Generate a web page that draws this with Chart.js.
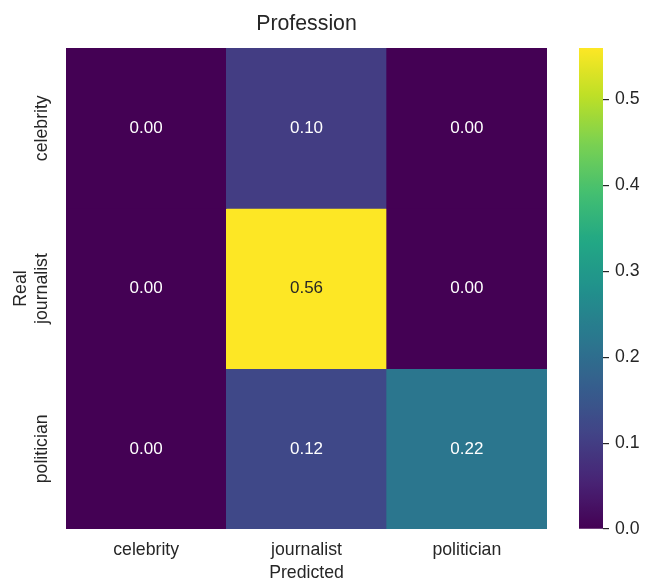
<!DOCTYPE html>
<html>
<head>
<meta charset="utf-8">
<title>Profession</title>
<script src="https://cdn.jsdelivr.net/npm/chart.js@4.4.1/dist/chart.umd.min.js"></script>
<style>
  html, body { margin: 0; padding: 0; background: #ffffff; }
  #wrap { position: relative; width: 646px; height: 587px; }
  #heat { position: absolute; left: 0; top: 0; }
  #cbar { position: absolute; left: 560px; top: 0; }
</style>
</head>
<body>
<div id="wrap">
  <canvas id="heat" width="646" height="587"></canvas>
  <canvas id="cbar" width="86" height="587"></canvas>
</div>
<script>
// Confusion matrix: rows = real class, columns = predicted class
const predictedLabels = ['celebrity', 'journalist', 'politician'];
const realLabels = ['celebrity', 'journalist', 'politician'];
const rowCelebrity  = [0.00, 0.10, 0.00];
const rowJournalist = [0.00, 0.56, 0.00];
const rowPolitician = [0.00, 0.12, 0.22];
const colorbarTicks = [0.0, 0.1, 0.2, 0.3, 0.4, 0.5];

const rows = [rowCelebrity, rowJournalist, rowPolitician];
const vmin = 0;
const vmax = Math.max(...rows.flat());

const FONT = "'Liberation Sans', Arial, 'DejaVu Sans', sans-serif";
const TEXT = '#262626';

// viridis colour map, sampled at 11 evenly spaced stops
const VIRIDIS = ['#440154', '#482475', '#414487', '#355f8d', '#2a788e', '#21918c',
                 '#22a884', '#44bf70', '#7ad151', '#bddf26', '#fde725'];
function hexToRgb(h) {
  return [parseInt(h.slice(1, 3), 16), parseInt(h.slice(3, 5), 16), parseInt(h.slice(5, 7), 16)];
}
function viridis(t) {
  t = Math.min(1, Math.max(0, t));
  const pos = t * (VIRIDIS.length - 1);
  const i = Math.min(VIRIDIS.length - 2, Math.floor(pos));
  const f = pos - i;
  const a = hexToRgb(VIRIDIS[i]), b = hexToRgb(VIRIDIS[i + 1]);
  return a.map((c, k) => Math.round(c + (b[k] - c) * f));
}
function rgbStr(c) { return `rgb(${c[0]},${c[1]},${c[2]})`; }
function norm(v) { return (v - vmin) / (vmax - vmin); }
function luminance(c) {
  const lin = c.map(x => { x /= 255; return x <= 0.03928 ? x / 12.92 : Math.pow((x + 0.055) / 1.055, 2.4); });
  return 0.2126 * lin[0] + 0.7152 * lin[1] + 0.0722 * lin[2];
}

// Each real class is one stacked dataset of unit-height cells
const datasets = rows.map((vals, r) => ({
  label: realLabels[r],
  data: vals.map(() => 1),
  values: vals,
  backgroundColor: vals.map(v => rgbStr(viridis(norm(v)))),
  borderWidth: 0,
  barPercentage: 1,
  categoryPercentage: 1
}));

// Writes the value in every cell and the rotated row labels
const cellText = {
  id: 'cellText',
  afterDatasetsDraw(chart) {
    const ctx = chart.ctx;
    ctx.save();
    ctx.font = `17px ${FONT}`;
    ctx.textAlign = 'center';
    ctx.textBaseline = 'middle';
    chart.data.datasets.forEach((ds, di) => {
      chart.getDatasetMeta(di).data.forEach((bar, i) => {
        const v = ds.values[i];
        const col = viridis(norm(v));
        ctx.fillStyle = luminance(col) < 0.408 ? '#ffffff' : TEXT;
        ctx.fillText(v.toFixed(2), bar.x, (bar.y + bar.base) / 2);
      });
    });
    ctx.restore();
  },
  afterDraw(chart) {
    const ys = chart.scales.y;
    const ctx = chart.ctx;
    ctx.save();
    ctx.font = `17.7px ${FONT}`;
    ctx.fillStyle = TEXT;
    ctx.textAlign = 'center';
    ctx.textBaseline = 'middle';
    realLabels.forEach((lab, i) => {
      ctx.save();
      ctx.translate(ys.right - 24, ys.getPixelForValue(i + 0.5));
      ctx.rotate(-Math.PI / 2);
      ctx.fillText(lab, 0, 0);
      ctx.restore();
    });
    ctx.restore();
  }
};

new Chart(document.getElementById('heat'), {
  type: 'bar',
  data: { labels: predictedLabels, datasets },
  plugins: [cellText],
  options: {
    responsive: false,
    animation: false,
    events: [],
    layout: { padding: { left: 0, right: 99, top: 0, bottom: 0 } },
    plugins: {
      legend: { display: false },
      tooltip: { enabled: false },
      title: {
        display: true,
        fullSize: false,
        text: 'Profession',
        color: TEXT,
        font: { family: FONT, size: 21.3, weight: 'normal', lineHeight: 1.2 },
        padding: { top: 11, bottom: 11.5 }
      }
    },
    scales: {
      x: {
        stacked: true,
        grid: { display: false, drawTicks: false },
        border: { display: false },
        ticks: { color: TEXT, padding: 10, font: { family: FONT, size: 17.7, lineHeight: 1.2 } },
        title: {
          display: true, text: 'Predicted', color: TEXT,
          font: { family: FONT, size: 17.7, lineHeight: 1.2 },
          padding: { top: 0, bottom: 3 }
        },
        afterFit(s) { s.height = 58; }
      },
      y: {
        stacked: true,
        reverse: true,
        min: 0,
        max: realLabels.length,
        grid: { display: false, drawTicks: false },
        border: { display: false },
        ticks: { display: false },
        title: {
          display: true, text: 'Real', color: TEXT,
          font: { family: FONT, size: 17.7, lineHeight: 1.2 },
          padding: { top: 10, bottom: 0 }
        },
        afterFit(s) { s.width = 66; }
      }
    }
  }
});

// Colour bar: one floating bar from vmin to vmax filled with the colour map
new Chart(document.getElementById('cbar'), {
  type: 'bar',
  data: {
    labels: [''],
    datasets: [{
      data: [[vmin, vmax]],
      borderWidth: 0,
      barPercentage: 1,
      categoryPercentage: 1,
      backgroundColor(c) {
        const chart = c.chart;
        if (!chart.chartArea) return VIRIDIS[0];
        const ys = chart.scales.y;
        const g = chart.ctx.createLinearGradient(0, ys.getPixelForValue(vmin), 0, ys.getPixelForValue(vmax));
        const n = 64;
        for (let k = 0; k <= n; k++) g.addColorStop(k / n, rgbStr(viridis(k / n)));
        return g;
      }
    }]
  },
  options: {
    responsive: false,
    animation: false,
    events: [],
    layout: { padding: { left: 19, right: 0, top: 48, bottom: 58 } },
    plugins: { legend: { display: false }, tooltip: { enabled: false } },
    scales: {
      x: { display: false },
      y: {
        position: 'right',
        min: vmin,
        max: vmax,
        afterBuildTicks(s) { s.ticks = colorbarTicks.map(v => ({ value: v })); },
        grid: { drawOnChartArea: false, drawTicks: true, tickLength: 6, color: TEXT, lineWidth: 1.2 },
        border: { display: false },
        ticks: {
          color: TEXT, padding: 6,
          font: { family: FONT, size: 17.7 },
          callback: v => Number(v).toFixed(1)
        },
        afterFit(s) { s.width = 43; }
      }
    }
  }
});
</script>
</body>
</html>
